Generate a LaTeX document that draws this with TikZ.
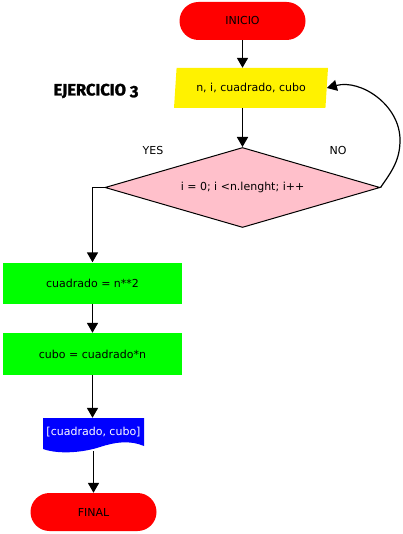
\documentclass[tikz,border=0pt]{standalone}
\usepackage{fontspec}
\setmainfont{DejaVu Sans}
\newfontfamily\titlefont[Numbers=OldStyle,BoldFeatures={FakeBold=1.5}]{Fira Sans}
\usetikzlibrary{shapes.geometric,shapes.misc,arrows.meta}
\definecolor{pinkfill}{RGB}{255,192,203}
\definecolor{greenfill}{RGB}{0,255,0}
\begin{document}
\begin{tikzpicture}[x=1pt,y=-1pt,
  every node/.style={font=\fontsize{11}{13}\selectfont, inner sep=0pt},
  term/.style={rounded rectangle, fill=red, minimum width=126pt, minimum height=38pt},
  iobox/.style={trapezium, trapezium left angle=75, trapezium right angle=105, trapezium stretches body, fill=yellow, minimum width=154pt, minimum height=40pt},
  decision/.style={diamond, aspect=3.44, draw=black, line width=1pt, fill=pinkfill, minimum width=275pt, minimum height=80pt},
  procbox/.style={rectangle, fill=greenfill, minimum width=179pt, minimum height=41pt},
  flow/.style={line width=1.7pt, -{Triangle[width=11pt,length=10pt]}},
  lbl/.style={font=\fontsize{11}{13}\selectfont}
]
\useasboundingbox (0,0) rectangle (403,534);
\node[term] (start) at (242.5,21) {INICIO};
\node[iobox] (inp) at (251,88) {n, i, cuadrado, cubo};
\node[decision] (dec) at (242.5,187.5) {i = 0; i <n.lenght; i++};
\node[procbox] (sq) at (92.5,283) {cuadrado = n**2};
\node[procbox, minimum height=42pt] (cb) at (92.5,354) {cubo = cuadrado*n};
% document shape
\node[minimum width=101pt, minimum height=28pt] (out) at (92.5,432) {};
\fill[blue] (43,418) -- (144,418) -- (144,446)
  .. controls (130,440) and (115,442) .. (100,447)
  .. controls (85,452) and (60,455) .. (43,449) -- cycle;
\node[text=white, font=\fontsize{11}{13}\selectfont] (outtext) at (93.5,432) {[cuadrado, cubo]};
\node[term] (stop) at (93.5,512) {FINAL};
\node[font=\titlefont\bfseries\fontsize{16.5}{18}\selectfont] (title) at (96,91) {EJERCICIO 3};
\node[lbl] (yes) at (153,150) {YES};
\node[lbl] (no) at (338,150) {NO};
% connectors
\coordinate (inbot) at (242.5,108);
\coordinate (docbot) at (93.5,451);
\coordinate (loopr) at (400,140);
\draw[flow] (start.south) -- (start.south |- inp.north);
\draw[flow] (inbot) -- (dec.north);
\draw[flow] (dec.west) -| (sq.north);
\draw[flow] (sq.south) -- (cb.north);
\draw[flow] (cb.south) -- (out.north);
\draw[flow] (docbot) -- (stop.north);
\draw[flow, line width=1.2pt] (dec.east) to[out=55,in=-90] (loopr) to[out=90,in=15] (inp.east);
\end{tikzpicture}
\end{document}
